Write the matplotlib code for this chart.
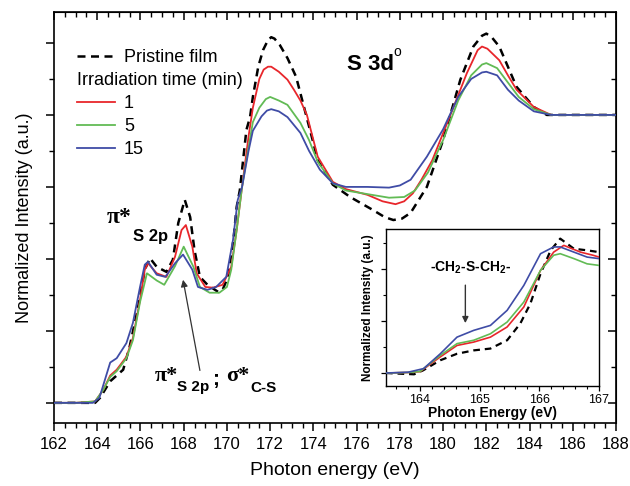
import matplotlib
matplotlib.use("Agg")
import matplotlib.pyplot as plt
from matplotlib.lines import Line2D
from matplotlib.ticker import MultipleLocator, NullFormatter

plt.rcParams['font.family'] = ['Liberation Sans', 'DejaVu Sans']
plt.rcParams['mathtext.fontset'] = 'custom'
plt.rcParams['mathtext.rm'] = 'Liberation Sans:bold'
plt.rcParams['mathtext.bf'] = 'Liberation Sans:bold'

# ---------------- main spectra (photon energy eV, normalized intensity) -------------
pristine_x = [162, 163, 163.9, 164.13, 164.6, 165.2, 165.5, 165.8, 165.98, 166.2, 166.44,
              166.75, 167.2, 167.5, 167.75, 168.05, 168.3, 168.5, 168.75, 169.1, 169.6,
              169.8, 170.05, 170.3, 170.45, 170.6, 170.9, 171.07, 171.2, 171.45, 171.67,
              171.9, 172.05, 172.2, 172.45, 172.8, 173.2, 173.6, 174.0, 174.2, 174.9, 175.7,
              176.75, 177.3, 177.7, 178.1, 178.5, 179.25, 180.0, 180.8, 181.4, 181.8, 182.0,
              182.25, 182.6, 183.4, 184.2, 184.8, 186, 188]
pristine_y = [0, 0, 0, 0.07, 0.3, 0.46, 0.78, 1.2, 1.47, 1.85, 2.01,
              1.89, 1.82, 1.99, 2.5, 2.82, 2.58, 2.12, 1.75, 1.64, 1.54,
              1.57, 1.75, 2.26, 2.72, 2.96, 3.79, 3.97, 4.25, 4.67, 4.9,
              5.04, 5.08, 5.06, 4.97, 4.79, 4.53, 4.07, 3.61, 3.37, 3.03, 2.86,
              2.68, 2.58, 2.54, 2.56, 2.64, 3.0, 3.65, 4.49, 4.95, 5.1, 5.13,
              5.08, 4.95, 4.39, 4.11, 4.0, 4.0, 4.0]

red_x = [162, 163, 163.9, 164.28, 164.6, 164.9, 165.35, 165.65, 165.98, 166.2, 166.35,
         166.75, 167.2, 167.6, 167.9, 168.1, 168.4, 168.6, 169.0, 169.35, 169.8, 170.2,
         170.45, 170.7, 171.0, 171.2, 171.5, 171.7, 171.9, 172.05, 172.4, 172.8, 173.1, 173.4,
         173.7, 174.2, 174.9, 175.5, 176.5, 177.2, 177.8, 178.2, 178.6, 179.0, 179.5,
         180.3, 181.1, 181.6, 181.8, 182.05, 182.6, 183.0, 183.4, 184.2, 185, 186, 188]
red_y = [0, 0, 0.02, 0.18, 0.38, 0.46, 0.64, 0.9, 1.43, 1.85, 1.94,
         1.8, 1.75, 2.03, 2.4, 2.47, 2.17, 1.8, 1.61, 1.6, 1.64, 1.89,
         2.4, 3.0, 3.7, 4.1, 4.5, 4.63, 4.67, 4.67, 4.6, 4.49, 4.35, 4.2,
         4.0, 3.42, 3.07, 2.97, 2.89, 2.8, 2.76, 2.8, 2.91, 3.1, 3.37,
         3.97, 4.58, 4.9, 4.95, 4.92, 4.76, 4.55, 4.35, 4.11, 4.0, 4.0, 4.0]

green_x = [162, 163, 163.9, 164.28, 164.6, 164.9, 165.35, 165.65, 165.98, 166.3,
           166.75, 167.1, 167.6, 168.0, 168.45, 168.75, 169.2, 169.65, 170.0, 170.2,
           170.45, 170.7, 171.0, 171.2, 171.5, 171.8, 172.0, 172.4, 172.8, 173.4, 173.8,
           174.2, 174.9, 175.5, 176.5, 177.5, 178.2, 178.7, 179.3, 180.0, 180.7,
           181.3, 181.8, 182.0, 182.5, 183.0, 183.5, 184.2, 185, 186, 188]
green_y = [0, 0, 0.02, 0.18, 0.36, 0.44, 0.62, 0.87, 1.4, 1.8,
           1.7, 1.64, 1.9, 2.17, 1.89, 1.61, 1.53, 1.53, 1.61, 1.85,
           2.4, 3.0, 3.55, 3.9, 4.1, 4.22, 4.25, 4.2, 4.14, 3.89, 3.65,
           3.35, 3.05, 2.95, 2.9, 2.85, 2.86, 2.95, 3.2, 3.65, 4.2,
           4.55, 4.7, 4.72, 4.65, 4.45, 4.25, 4.08, 4.0, 4.0, 4.0]

blue_x = [162, 163, 163.8, 164.1, 164.6, 164.9, 165.35, 165.65, 165.98, 166.2, 166.35,
          166.75, 167.15, 167.6, 167.97, 168.4, 168.66, 169.1, 169.5, 169.97, 170.28,
          170.5, 170.7, 171.0, 171.2, 171.6, 171.85, 172.05, 172.4, 172.8, 173.4, 173.8,
          174.3, 174.9, 175.5, 176.5, 177.5, 178.0, 178.5, 179.25, 180.0, 180.7,
          181.3, 181.8, 182.0, 182.5, 183.0, 183.5, 184.2, 185, 186, 188]
blue_y = [0, 0, 0, 0.07, 0.56, 0.62, 0.83, 1.11, 1.61, 1.92, 1.96,
          1.78, 1.75, 1.94, 2.06, 1.85, 1.61, 1.57, 1.61, 1.75, 2.26,
          2.82, 3.0, 3.5, 3.78, 3.98, 4.06, 4.08, 4.05, 3.97, 3.75, 3.5,
          3.24, 3.05, 3.0, 3.0, 2.99, 3.02, 3.1, 3.42, 3.8, 4.25,
          4.5, 4.59, 4.6, 4.55, 4.35, 4.2, 4.05, 4.0, 4.0, 4.0]

# ---------------- inset (pre-edge zoom) ----------------
ins_pristine_x = [163.43, 163.7, 163.9, 164.05, 164.34, 164.62, 164.9, 165.18, 165.46,
                  165.68, 165.85, 166.02, 166.19, 166.35, 166.58, 166.8, 167.0]
ins_pristine_y = [0, -0.03, -0.05, 0.1, 0.49, 0.74, 0.87, 0.94, 1.26,
                  1.9, 2.67, 3.82, 4.72, 5.17, 4.78, 4.72, 4.65]
ins_red_x = [163.43, 163.8, 164.0, 164.34, 164.62, 164.9, 165.18, 165.46, 165.74,
             166.02, 166.24, 166.41, 166.69, 166.9, 167.0]
ins_red_y = [0, 0.02, 0.05, 0.62, 1.06, 1.19, 1.38, 1.77, 2.54,
             3.95, 4.65, 4.91, 4.65, 4.53, 4.46]
ins_green_x = [163.43, 163.8, 164.0, 164.34, 164.62, 164.9, 165.18, 165.46, 165.74,
               166.02, 166.24, 166.35, 166.58, 166.8, 167.0]
ins_green_y = [0, 0.02, 0.06, 0.68, 1.13, 1.26, 1.51, 1.96, 2.73,
               3.95, 4.53, 4.59, 4.4, 4.2, 4.14]
ins_blue_x = [163.43, 163.8, 164.06, 164.34, 164.62, 164.9, 165.18, 165.46, 165.74,
              166.02, 166.24, 166.35, 166.58, 166.8, 167.0]
ins_blue_y = [0, 0.03, 0.17, 0.74, 1.38, 1.64, 1.83, 2.41, 3.37,
              4.59, 4.85, 4.85, 4.65, 4.46, 4.4]

series_labels = ['Pristine film', '1', '5', '15']
legend_title = 'Irradiation time (min)'
c_red, c_green, c_blue = '#e8262b', '#62bb55', '#3f4ca6'

fig = plt.figure(figsize=(6.3, 4.86), dpi=100)
ax = fig.add_axes([54/630, 1-423/486, (616-54)/630, (423-12)/486])

ax.plot(pristine_x, pristine_y, color='black', lw=1.8, dashes=(3.2, 2.2), zorder=3)
ax.plot(red_x, red_y, color=c_red, lw=1.3, zorder=4)
ax.plot(green_x, green_y, color=c_green, lw=1.3, zorder=4)
ax.plot(blue_x, blue_y, color=c_blue, lw=1.3, zorder=4)

ax.set_xlim(162, 188)
ax.set_ylim(-0.28, 5.43)
ax.xaxis.set_major_locator(MultipleLocator(2))
ax.xaxis.set_minor_locator(MultipleLocator(0.5))
ax.yaxis.set_major_locator(MultipleLocator(1))
ax.yaxis.set_minor_locator(MultipleLocator(0.5))
ax.set_yticklabels([])
ax.tick_params(axis='both', which='major', direction='out', length=6, width=1.1,
               labelsize=12, pad=4)
ax.tick_params(axis='both', which='minor', direction='out', length=3.5, width=1.0)
for s in ax.spines.values():
    s.set_linewidth(1.2)

top = ax.secondary_xaxis('top')
top.xaxis.set_major_locator(MultipleLocator(2))
top.xaxis.set_minor_locator(MultipleLocator(0.5))
top.xaxis.set_major_formatter(NullFormatter())
top.tick_params(which='major', direction='in', length=6, width=1.1)
top.tick_params(which='minor', direction='in', length=3.5, width=1.0)
right = ax.secondary_yaxis('right')
right.yaxis.set_major_locator(MultipleLocator(1))
right.yaxis.set_minor_locator(MultipleLocator(0.5))
right.yaxis.set_major_formatter(NullFormatter())
right.tick_params(which='major', direction='in', length=6, width=1.1)
right.tick_params(which='minor', direction='in', length=3.5, width=1.0)

ax.set_xlabel('Photon energy (eV)', fontsize=14, labelpad=7)
ax.set_ylabel('Normalized Intensity (a.u.)', fontsize=13, labelpad=5)

# legends
legA = ax.legend([Line2D([], [], color='black', lw=1.8, dashes=(3.2, 2.2))],
                 [series_labels[0]], loc='upper left', bbox_to_anchor=(0.041, 0.910),
                 frameon=False, fontsize=13, borderpad=0, borderaxespad=0,
                 handlelength=2.1, handletextpad=0.5)
ax.add_artist(legA)
ax.legend([Line2D([], [], color=c, lw=1.3) for c in (c_red, c_green, c_blue)],
          series_labels[1:], title=legend_title, title_fontsize=13, alignment='left',
          loc='upper left', bbox_to_anchor=(0.041, 0.854), frameon=False, fontsize=13,
          borderpad=0, borderaxespad=0, handlelength=2.1, handletextpad=0.5,
          labelspacing=0.33)

# annotations
ax.text(175.55, 4.70, 'S 3d', fontsize=16, fontweight='bold', va='center', ha='left')
ax.text(177.7, 4.88, 'o', fontsize=10, va='center', ha='left')

ax.text(164.45, 2.57, 'π*', fontsize=17, fontweight='bold', family='Liberation Serif',
        va='center', ha='left')
ax.text(165.65, 2.31, 'S 2p', fontsize=12, fontweight='bold', va='center', ha='left')

ax.text(166.67, 0.375, 'π*', fontsize=16, fontweight='bold', family='Liberation Serif',
        va='center', ha='left')
ax.text(167.69, 0.22, 'S 2p', fontsize=11, fontweight='bold', va='center', ha='left')
ax.text(169.3, 0.33, ';', fontsize=15, fontweight='bold', va='center', ha='left')
ax.text(169.95, 0.375, 'σ*', fontsize=16, fontweight='bold', family='Liberation Serif',
        va='center', ha='left')
ax.text(171.07, 0.21, 'C-S', fontsize=11, fontweight='bold', va='center', ha='left')
ax.annotate('', xy=(167.97, 1.71), xytext=(168.75, 0.45),
            arrowprops=dict(arrowstyle='-|>', color='#333333', lw=0.9,
                            mutation_scale=10, shrinkA=0, shrinkB=0))

# inset
ins = fig.add_axes([386/630, 1-386/486, (599-386)/630, (386-229)/486])
ins.plot(ins_pristine_x, ins_pristine_y, color='black', lw=1.6, dashes=(3, 2.2), zorder=3)
ins.plot(ins_red_x, ins_red_y, color=c_red, lw=1.2, zorder=4)
ins.plot(ins_green_x, ins_green_y, color=c_green, lw=1.2, zorder=4)
ins.plot(ins_blue_x, ins_blue_y, color=c_blue, lw=1.2, zorder=4)
ins.set_xlim(163.43, 167)
ins.set_ylim(-0.5, 5.54)
ins.xaxis.set_major_locator(MultipleLocator(1))
ins.xaxis.set_minor_locator(MultipleLocator(0.2))
ins.yaxis.set_major_locator(MultipleLocator(2))
ins.yaxis.set_minor_locator(MultipleLocator(1))
ins.set_yticklabels([])
ins.tick_params(which='major', direction='out', length=3.5, width=0.9, labelsize=9, pad=2)
ins.tick_params(which='minor', direction='out', length=2, width=0.8)
for s in ins.spines.values():
    s.set_linewidth(1.0)
ins.set_xlabel('Photon Energy (eV)', fontsize=10, fontweight='bold', labelpad=0)
ins.set_ylabel('Normalized Intensity (a.u.)', fontsize=8.5, fontweight='bold', labelpad=3)
ins.text(164.84, 4.04, r'-CH$_\mathbf{2}$-S-CH$_\mathbf{2}$-', fontsize=10,
         fontweight='bold', ha='center', va='center')
ins.annotate('', xy=(164.76, 1.92), xytext=(164.76, 3.38),
             arrowprops=dict(arrowstyle='-|>', color='#333333', lw=1.0,
                             mutation_scale=9, shrinkA=0, shrinkB=0))

fig.savefig('out.png', dpi=100)
